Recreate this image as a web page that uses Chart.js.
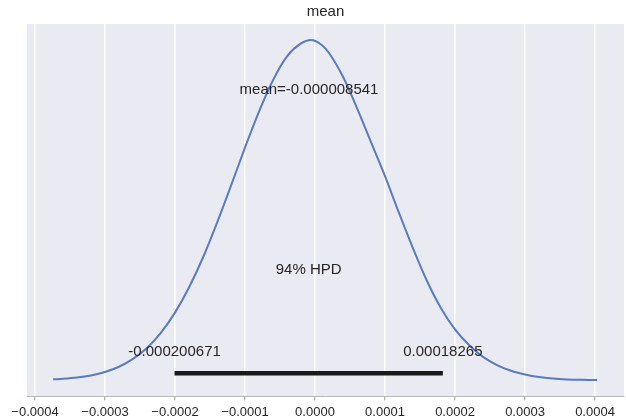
<!DOCTYPE html>
<html>
<head>
<meta charset="utf-8">
<script src="https://cdn.jsdelivr.net/npm/chart.js@4.4.0/dist/chart.umd.min.js"></script>
<style>
html, body { margin: 0; padding: 0; background: #fff; }
#wrap { width: 626px; height: 419px; }
</style>
</head>
<body>
<div id="wrap"><canvas id="myChart" width="626" height="419"></canvas></div>
<script>
// posterior density of "mean" (x in units of 1e-5, y scaled to peak ~1)
var xs = [-37.4, -36, -34, -32, -30, -28, -26, -24, -22, -20, -18, -16, -14, -12, -10, -8, -6, -4, -2,
          -0.6, 1, 2, 4, 6, 8, 10, 12, 14, 16, 18, 20, 22, 24, 26, 28, 30, 32, 34, 36, 38, 40, 40.3];
var dens = [0.003, 0.0046, 0.0083, 0.0145, 0.0245, 0.040, 0.063, 0.095, 0.140, 0.199, 0.273, 0.361, 0.463, 0.572, 0.684, 0.790, 0.882, 0.952, 0.990,
            1.0, 0.985, 0.962, 0.892, 0.800, 0.700, 0.600, 0.492, 0.388, 0.292, 0.212, 0.150, 0.104, 0.069, 0.045, 0.028, 0.017, 0.0095, 0.0052, 0.0028, 0.0015, 0.001, 0.001];
var hpd = [-0.000200671, 0.00018265];
var hpdLabels = ['-0.000200671', '0.00018265'];
var meanVal = -0.000008541;
var meanLabel = 'mean=-0.000008541';
var tickVals = [-0.0004, -0.0003, -0.0002, -0.0001, 0, 0.0001, 0.0002, 0.0003, 0.0004];
var tickLabels = ['\u22120.0004', '\u22120.0003', '\u22120.0002', '\u22120.0001', '0.0000', '0.0001', '0.0002', '0.0003', '0.0004'];

var curve = [];
for (var i = 0; i < xs.length; i++) {
    curve.push({x: xs[i] * 1e-5, y: dens[i]});
}
var hpdLine = [{x: hpd[0], y: 0.0206}, {x: hpd[1], y: 0.0206}];

var FONT = '"Liberation Sans", Arial, sans-serif';
var TXT = '#262626';

var bgPlugin = {
    id: 'bg',
    beforeDraw: function (chart) {
        var a = chart.chartArea, c = chart.ctx;
        c.save();
        c.fillStyle = '#eaeaf2';
        c.fillRect(a.left, a.top, a.right - a.left, a.bottom - a.top);
        c.restore();
    }
};

var textPlugin = {
    id: 'labels',
    afterDatasetsDraw: function (chart) {
        var c = chart.ctx, sx = chart.scales.x, sy = chart.scales.y;
        c.save();
        c.font = '15px ' + FONT;
        c.fillStyle = TXT;
        c.textAlign = 'center';
        c.textBaseline = 'middle';
        c.fillText(meanLabel, sx.getPixelForValue(meanVal), sy.getPixelForValue(0.853));
        c.fillText('94% HPD', sx.getPixelForValue((hpd[0] + hpd[1]) / 2), sy.getPixelForValue(0.324));
        c.fillText(hpdLabels[0], sx.getPixelForValue(hpd[0]), sy.getPixelForValue(0.083));
        c.fillText(hpdLabels[1], sx.getPixelForValue(hpd[1]), sy.getPixelForValue(0.083));
        c.restore();
    }
};

var ctx = document.getElementById('myChart').getContext('2d');
var myChart = new Chart(ctx, {
    type: 'line',
    data: {
        datasets: [{
            label: 'mean',
            data: curve,
            borderColor: '#5a7bbd',
            borderWidth: 2,
            pointRadius: 0,
            fill: false,
            cubicInterpolationMode: 'monotone'
        }, {
            label: 'hpd',
            data: hpdLine,
            borderColor: '#1a1a1a',
            borderWidth: 4.5,
            borderCapStyle: 'butt',
            pointRadius: 0,
            fill: false
        }]
    },
    options: {
        responsive: false,
        animation: false,
        layout: {
            padding: {left: 27, right: 2, top: 0, bottom: -5}
        },
        plugins: {
            legend: {display: false},
            tooltip: {enabled: false},
            title: {
                display: true,
                text: 'mean',
                color: TXT,
                font: {family: FONT, size: 15, weight: 'normal'},
                padding: {top: 3, bottom: 3}
            }
        },
        scales: {
            x: {
                type: 'linear',
                min: -0.0004114,
                max: 0.0004414,
                afterBuildTicks: function (axis) {
                    axis.ticks = tickVals.map(function (v) { return {value: v}; });
                },
                grid: {
                    color: '#ffffff',
                    lineWidth: 1.5,
                    drawTicks: true,
                    tickColor: '#9a9a9a',
                    tickLength: 4,
                    tickWidth: 1
                },
                border: {display: true, color: '#b8b8b8', width: 1},
                ticks: {
                    color: TXT,
                    font: {family: FONT, size: 13},
                    padding: 4,
                    maxRotation: 0,
                    autoSkip: false,
                    callback: function (v, idx) { return tickLabels[idx]; }
                }
            },
            y: {
                type: 'linear',
                display: false,
                min: -0.0472,
                max: 1.0472
            }
        }
    },
    plugins: [bgPlugin, textPlugin]
});
</script>
</body>
</html>
